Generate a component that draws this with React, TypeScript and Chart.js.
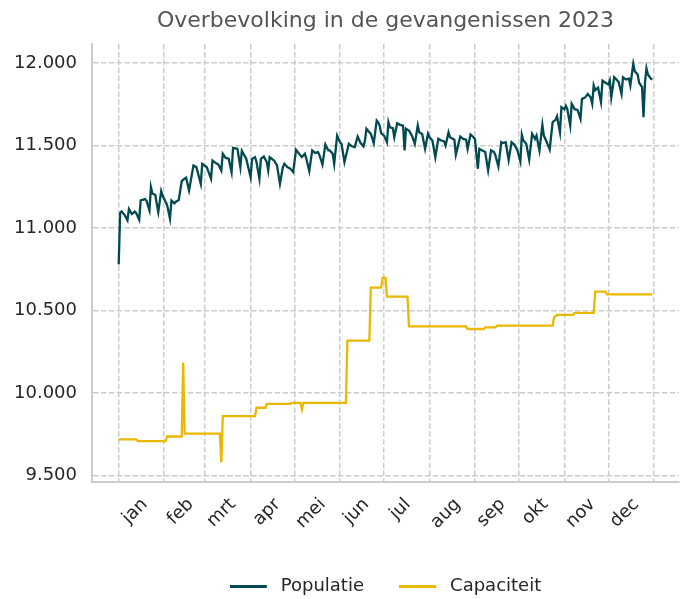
import React, { useEffect, useRef } from 'react';
import { Chart, registerables } from 'chart.js';

Chart.register(...registerables);

// ---- data (day of year 2023, 0 = 1 jan) ----
const popDays = [
  // jan - feb
  0, 1, 2, 4, 6, 7, 9, 11, 12, 14, 15, 18, 19, 21, 22, 23, 25, 26, 27, 29, 30, 33, 35, 36, 38, 39, 41,
  // feb - apr
  43, 44, 46, 48, 51, 53, 56, 57, 60, 63, 64, 66, 68, 70, 71, 73, 75, 77, 78, 81, 83, 84, 87, 90, 91, 93, 94, 96, 97,
  99, 101, 102, 103, 106, 108, 110, 112, 113, 115, 117, 119,
  // mei - jun
  121, 124, 125, 127, 128, 130, 132, 134, 136, 137, 139, 141, 143, 144, 146, 147, 149, 151, 152, 154, 157, 159, 161,
  163, 165, 167, 168, 169, 171, 172, 174, 176, 177, 178,
  // jul - dec
  179, 181, 183, 184, 185, 187, 188, 190, 192, 194, 195, 196, 198, 200, 202, 204, 205, 207, 209, 211, 212, 214, 216,
  218, 220, 222, 223, 225, 226, 229, 230, 233, 235, 237, 238, 240, 242, 243, 245, 246, 248, 250, 252, 254, 256, 257,
  259, 261, 262, 264, 266, 268, 270, 272, 274, 275, 276, 278, 280, 282, 284, 285, 287, 289, 290, 292, 294, 296, 298,
  299, 301, 302, 304, 305, 306, 308, 309, 311, 313, 315, 316, 318, 320, 322, 323, 324, 325, 327, 329, 330, 332, 334,
  335, 336, 338, 340, 341, 343, 344, 346, 348, 349, 351, 352, 354, 355, 357, 358, 359, 360, 361, 363, 364,
];
const popValues = [
  // jan - feb
  10780, 11091, 11100, 11080, 11047, 11115, 11085, 11100, 11090, 11051, 11167, 11175, 11165, 11107, 11248, 11210,
  11200, 11145, 11097, 11224, 11195, 11140, 11057, 11167, 11150, 11160, 11170,
  // feb - apr
  11284, 11293, 11305, 11228, 11379, 11369, 11268, 11389, 11370, 11299, 11409, 11395, 11385, 11349, 11450, 11425,
  11420, 11339, 11486, 11480, 11369, 11468, 11420, 11308, 11419, 11429, 11400, 11299, 11419, 11433, 11400, 11349,
  11429, 11409, 11380, 11268, 11369, 11389, 11370, 11360, 11339,
  // mei - jun
  11474, 11440, 11430, 11450, 11420, 11345, 11470, 11455, 11460, 11440, 11385, 11506, 11470, 11470, 11450, 11389,
  11560, 11520, 11510, 11399, 11510, 11495, 11490, 11554, 11515, 11495, 11530, 11601, 11580, 11570, 11514, 11651,
  11640, 11621,
  // jul - dec
  11575, 11560, 11520, 11641, 11610, 11605, 11550, 11635, 11625, 11620, 11470, 11601, 11590, 11560, 11510, 11621,
  11580, 11570, 11480, 11571, 11550, 11530, 11429,
  11540, 11530, 11525, 11500, 11580, 11550, 11535, 11445, 11554, 11540, 11535, 11480, 11567, 11550, 11540, 11359,
  11480, 11470, 11460, 11349, 11470, 11460, 11440,
  11373, 11520, 11515, 11520, 11413, 11520, 11505, 11470, 11403, 11565, 11530, 11510, 11415, 11571, 11540, 11560,
  11470, 11625, 11560, 11520, 11476, 11641, 11655,
  11677, 11580, 11732, 11720, 11740, 11720, 11621, 11753, 11720, 11715, 11661, 11782, 11790, 11812, 11790, 11753,
  11863, 11835, 11850, 11762, 11893, 11880, 11870,
  11893, 11792, 11913, 11895, 11885, 11812, 11913, 11900, 11905, 11863, 11994, 11950, 11930, 11880, 11853, 11671,
  11880, 11967, 11930, 11905, 11900,
];

const capDays = [
  0, 12, 13, 32, 33, 43, 44, 45, 69, 70, 71, 93, 94, 100, 101, 117, 118, 124, 125, 126, 155, 156, 171, 172, 179,
  180, 182, 183, 197, 198, 237, 238, 249, 250, 257, 258, 296, 297, 299, 310, 311, 324, 325, 332, 333, 364,
];
const capValues = [
  9720, 9720, 9710, 9710, 9738, 9738, 10184, 9755, 9755, 9583, 9861, 9861, 9912, 9912, 9936, 9936, 9942, 9942, 9901,
  9942, 9942, 10319, 10319, 10639, 10639, 10698, 10698, 10585, 10585, 10405, 10405, 10389, 10389, 10399, 10399,
  10409, 10409, 10460, 10474, 10474, 10486, 10486, 10615, 10615, 10599, 10599,
];

const monthStarts = [0, 31, 59, 90, 120, 151, 181, 212, 243, 273, 304, 334, 365];
const monthLabels = ['jan', 'feb', 'mrt', 'apr', 'mei', 'jun', 'jul', 'aug', 'sep', 'okt', 'nov', 'dec'];
const yTicks = [9500, 10000, 10500, 11000, 11500, 12000];

const chartTitle = 'Overbevolking in de gevangenissen 2023';
const seriesNames = ['Populatie', 'Capaciteit'];
const seriesColors = ['#004a50', '#e9b800'];

// ---- layout constants ----
const W = 685;
const H = 605;
const FONT = '"DejaVu Sans", sans-serif';
const FS = 18;
const Y_AXIS_W = 92;
const RIGHT_PAD = 6;
const X_AXIS_H = 59.9;
const GRID = '#cccccc';
const TEXT = '#262626';
const LABEL_DAY = 11.2;
const LEG_BOX = 42;
const LEG_LINE = 37;

const fmt = (n: number) => String(n).replace(/\B(?=(\d{3})+(?!\d))/g, '.');

function legendLine(color: string) {
  const c = document.createElement('canvas');
  c.width = LEG_BOX;
  c.height = 3;
  const g = c.getContext('2d')!;
  g.fillStyle = color;
  g.fillRect(0, 0, LEG_LINE, 3);
  return c;
}

export default function App() {
  const ref = useRef<HTMLCanvasElement | null>(null);

  useEffect(() => {
    if (!ref.current) return;
    const allVals = [...popValues, ...capValues];
    const vMin = Math.min(...allVals);
    const vMax = Math.max(...allVals);
    const yPad = (vMax - vMin) * 0.05;
    const dMin = 0;
    const dMax = Math.max(...popDays, ...capDays);
    const xPad = (dMax - dMin) * 0.05;
    const xMin = dMin - xPad;
    const xMax = dMax + xPad;

    const series = [
      { days: popDays, vals: popValues },
      { days: capDays, vals: capValues },
    ];

    const chart = new Chart(ref.current, {
      type: 'line',
      data: {
        datasets: series.map((s, k) => ({
          label: seriesNames[k],
          data: s.days.map((d, i) => ({ x: d, y: s.vals[i] })),
          borderColor: seriesColors[k],
          backgroundColor: seriesColors[k],
          borderWidth: 2.3,
          pointRadius: 0,
          pointHoverRadius: 0,
          pointStyle: legendLine(seriesColors[k]) as any,
          tension: 0,
          fill: false,
        })),
      },
      options: {
        responsive: false,
        animation: false,
        devicePixelRatio: 1,
        layout: { padding: { left: 0, right: RIGHT_PAD, top: 0, bottom: 0 } },
        font: { family: FONT },
        scales: {
          x: {
            type: 'linear',
            min: xMin,
            max: xMax,
            afterFit: (scale: any) => {
              scale.height = X_AXIS_H;
            },
            afterBuildTicks: (scale: any) => {
              const ticks: any[] = monthStarts.map((v) => ({ value: v }));
              const pxPerDay = (W - Y_AXIS_W - RIGHT_PAD) / (xMax - xMin);
              const m = document.createElement('canvas').getContext('2d')!;
              m.font = `${FS}px ${FONT}`;
              monthLabels.forEach((lab, i) => {
                const w = m.measureText(lab).width;
                ticks.push({ value: monthStarts[i] + LABEL_DAY + (w * Math.SQRT1_2) / 2 / pxPerDay, lab });
              });
              ticks.sort((a, b) => a.value - b.value);
              scale.ticks = ticks;
            },
            ticks: {
              autoSkip: false,
              minRotation: 45,
              maxRotation: 45,
              padding: 0,
              color: TEXT,
              font: { family: FONT, size: FS },
              callback: (_v: any, i: number, t: any[]) => (t[i] && t[i].lab) || '',
            },
            grid: {
              drawTicks: true,
              tickLength: 12,
              tickColor: 'rgba(0,0,0,0)',
              lineWidth: 1.5,
              color: (ctx: any) => (ctx.tick && ctx.tick.lab ? 'rgba(0,0,0,0)' : GRID),
            },
            border: { display: true, color: GRID, width: 2, dash: [5.5, 2.4] },
          },
          y: {
            type: 'linear',
            min: vMin - yPad,
            max: vMax + yPad,
            afterFit: (scale: any) => {
              scale.width = Y_AXIS_W;
            },
            afterBuildTicks: (scale: any) => {
              scale.ticks = yTicks.map((v) => ({ value: v }));
            },
            ticks: {
              padding: 15,
              color: TEXT,
              font: { family: FONT, size: FS },
              callback: (v: any) => fmt(Number(v)),
            },
            grid: { drawTicks: false, lineWidth: 1.5, color: GRID },
            border: { display: true, color: GRID, width: 2, dash: [5.5, 2.4] },
          },
        },
        plugins: {
          title: {
            display: true,
            text: chartTitle,
            color: '#555555',
            fullSize: false,
            font: { family: FONT, size: 22, weight: 'normal' },
            padding: { top: 8, bottom: 9.6 },
          },
          legend: {
            display: true,
            position: 'bottom',
            fullSize: false,
            labels: {
              usePointStyle: true,
              pointStyleWidth: LEG_BOX,
              padding: 35.1,
              color: TEXT,
              font: { family: FONT, size: FS },
            },
          },
          tooltip: { enabled: false },
        },
      } as any,
    });
    return () => chart.destroy();
  }, []);

  return (
    <div style={{ position: 'absolute', left: 0, top: 0, width: W, height: 599, overflow: 'hidden', background: '#fff' }}>
      <canvas ref={ref} width={W} height={H} style={{ display: 'block', width: W, height: H }} />
    </div>
  );
}
